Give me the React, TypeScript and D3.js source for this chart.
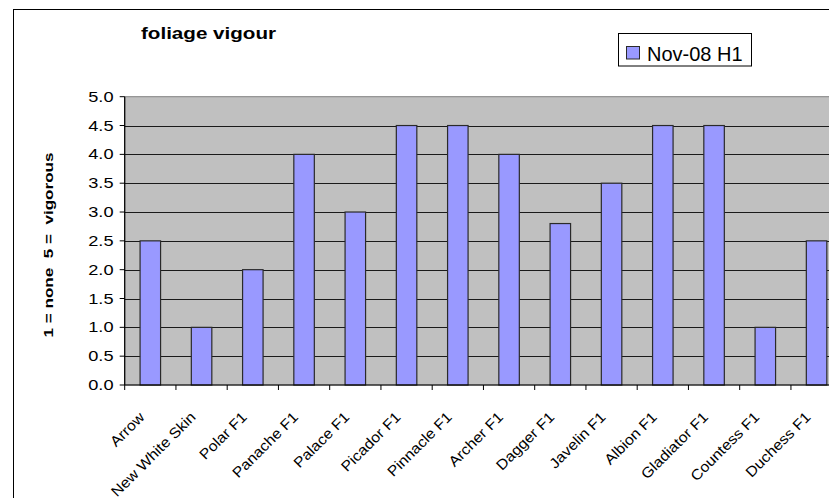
import React from 'react';
import * as d3 from 'd3';

const categories = [
  'Arrow', 'New White Skin', 'Polar F1', 'Panache F1', 'Palace F1', 'Picador F1',
  'Pinnacle F1', 'Archer F1', 'Dagger F1', 'Javelin F1', 'Albion F1', 'Gladiator F1',
  'Countess F1', 'Duchess F1',
];
const values = [2.5, 1.0, 2.0, 4.0, 3.0, 4.5, 4.5, 4.0, 2.8, 3.5, 4.5, 4.5, 1.0, 2.5];
const yTicks = [0, 0.5, 1, 1.5, 2, 2.5, 3, 3.5, 4, 4.5, 5];
const seriesName = 'Nov-08 H1';
const title = 'foliage vigour';
const yLabel = '1 = none  5 =  vigorous';

const W = 829;
const H = 498;
const plot = { left: 124.7, top: 96.7, right: 842.2, bottom: 385 };
const font = 'Arial, "Liberation Sans", sans-serif';

export default function App() {
  const x = d3.scaleBand<string>()
    .domain(categories)
    .range([plot.left, plot.right])
    .paddingInner(0.6)
    .paddingOuter(0.3);
  const y = d3.scaleLinear().domain([0, 5]).range([plot.bottom, plot.top]);
  const step = x.step();
  const bw = x.bandwidth();

  return (
    <>
      <style>{`body{margin:0;overflow:hidden}`}</style>
      <svg width={W} height={H} style={{ display: 'block', fontFamily: font }}>
        <rect x={0} y={0} width={W} height={H} fill="#fff" />
        {/* outer chart frame (runs off the right/bottom edge) */}
        <rect x={13.5} y={9.5} width={W + 20} height={H + 20} fill="#fff" stroke="#000" strokeWidth={1} />

        {/* plot area */}
        <rect x={plot.left} y={plot.top} width={plot.right - plot.left} height={plot.bottom - plot.top}
          fill="#c0c0c0" stroke="#808080" strokeWidth={1} />

        {/* gridlines */}
        {yTicks.filter(t => t > 0 && t < 5).map(t => (
          <line key={'g' + t} x1={plot.left} x2={plot.right} y1={Math.round(y(t)) + 0.5} y2={Math.round(y(t)) + 0.5}
            stroke="#1a1a1a" strokeWidth={1} />
        ))}

        {/* bars */}
        {categories.map((c, i) => (
          <rect key={c} x={x(c)} y={y(values[i])} width={bw} height={plot.bottom - y(values[i])}
            fill="#9999ff" stroke="#2a2a2a" strokeWidth={1.2} />
        ))}

        {/* y axis */}
        <line x1={plot.left} x2={plot.left} y1={plot.top} y2={plot.bottom} stroke="#000" strokeWidth={1.2} />
        {yTicks.map(t => (
          <g key={'t' + t}>
            <line x1={plot.left - 5} x2={plot.left} y1={y(t)} y2={y(t)} stroke="#000" strokeWidth={1} />
            <text transform={`translate(113.5,${y(t) + 5}) scale(1.3,1)`} textAnchor="end" fontSize={14} fill="#000">
              {d3.format('.1f')(t)}
            </text>
          </g>
        ))}

        {/* x axis */}
        <line x1={plot.left} x2={plot.right} y1={plot.bottom} y2={plot.bottom} stroke="#000" strokeWidth={1.2} />
        {d3.range(categories.length + 1).map(i => (
          <line key={'xt' + i} x1={plot.left + i * step} x2={plot.left + i * step} y1={plot.bottom} y2={plot.bottom + 5}
            stroke="#000" strokeWidth={1} />
        ))}
        {categories.map(c => (
          <text key={'l' + c}
            transform={`translate(${(x(c) as number) + bw / 2 - 5},${plot.bottom + 33}) rotate(-45) scale(1.1,1)`}
            textAnchor="end" fontSize={14.5} fill="#000">
            {c}
          </text>
        ))}

        {/* title */}
        <text x={141} y={39} fontSize={16} fontWeight="bold" textLength={135} lengthAdjust="spacingAndGlyphs" fill="#000">
          {title}
        </text>

        {/* y axis label */}
        <text transform={`translate(53,245) rotate(-90)`} textAnchor="middle" fontSize={13} fontWeight="bold"
          textLength={185} lengthAdjust="spacingAndGlyphs" style={{ whiteSpace: 'pre' }} fill="#000">
          {yLabel}
        </text>

        {/* legend */}
        <rect x={618.5} y={33.5} width={133} height={32.5} fill="#fff" stroke="#000" strokeWidth={1} />
        <rect x={626.5} y={46.5} width={13} height={12.5} fill="#9999ff" stroke="#2a2a2a" strokeWidth={1} />
        <text x={647} y={61} fontSize={20} fill="#000">{seriesName}</text>
      </svg>
    </>
  );
}
